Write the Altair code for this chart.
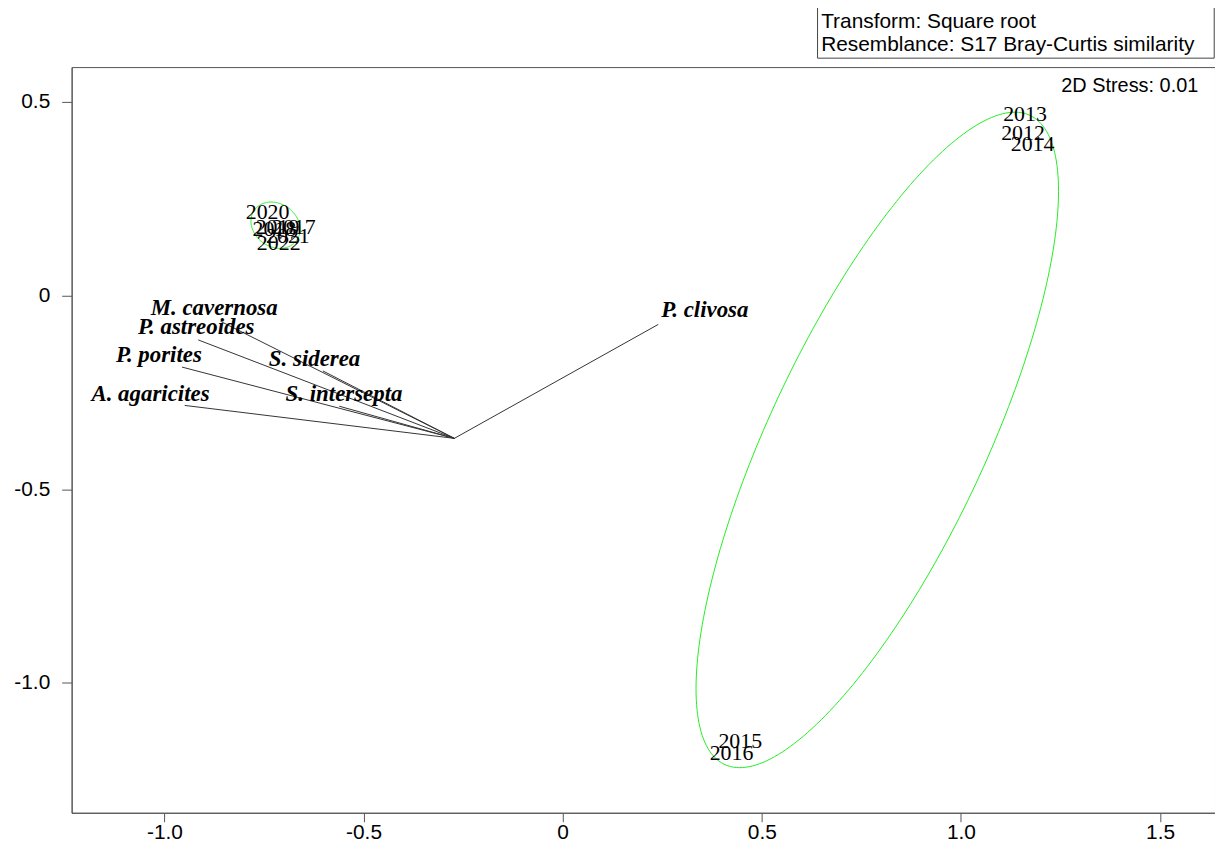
import altair as alt
import numpy as np
import pandas as pd

# ---- sample (year) positions in the nMDS ordination ----
years = ["2012", "2013", "2014", "2015", "2016", "2017", "2018", "2019", "2020", "2021", "2022"]
year_x = [1.156, 1.161, 1.180, 0.446, 0.424, -0.675, -0.724, -0.716, -0.741, -0.690, -0.713]
year_y = [0.419, 0.468, 0.391, -1.149, -1.180, 0.175, 0.172, 0.175, 0.2155, 0.152, 0.136]

# ---- species vectors (end points) and their label positions ----
species = ["P. clivosa", "M. cavernosa", "P. astreoides", "P. porites",
           "A. agaricites", "S. siderea", "S. intersepta"]
vec_x = [0.240, -0.859, -0.915, -0.956, -0.949, -0.602, -0.561]
vec_y = [-0.075, -0.067, -0.115, -0.185, -0.284, -0.195, -0.286]
label_x = [0.357, -0.875, -0.920, -1.014, -1.035, -0.623, -0.549]
label_y = [-0.038, -0.033, -0.082, -0.154, -0.255, -0.164, -0.255]
origin_x = -0.272
origin_y = -0.369

# ---- cluster ellipses (center, semi-axes, angle in degrees) ----
ell_names = ["small", "large"]
ell_cx = [-0.721, 0.790]
ell_cy = [0.181, -0.373]
ell_a = [0.066, 0.921]
ell_b = [0.055, 0.272]
ell_angle = [-40.0, 65.5]

# ---- annotation texts ----
box_lines = ["Transform: Square root", "Resemblance: S17 Bray-Curtis similarity"]
stress_text = "2D Stress: 0.01"

x_ticks = [-1.0, -0.5, 0.0, 0.5, 1.0, 1.5]
y_ticks = [-1.0, -0.5, 0.0, 0.5]
x_domain = [-1.233, 1.638]
y_domain = [-1.335, 0.589]

# ---------------- build tables ----------------
years_df = pd.DataFrame({"year": years, "x": year_x, "y": year_y})
vec_df = pd.DataFrame({"species": species, "x": [origin_x] * len(species),
                       "y": [origin_y] * len(species), "x2": vec_x, "y2": vec_y})
lab_df = pd.DataFrame({"species": species, "x": label_x, "y": label_y})

rows = []
t = np.linspace(0, 2 * np.pi, 241)
for n, cx, cy, a, b, ang in zip(ell_names, ell_cx, ell_cy, ell_a, ell_b, ell_angle):
    th = np.deg2rad(ang)
    ex = cx + a * np.cos(t) * np.cos(th) - b * np.sin(t) * np.sin(th)
    ey = cy + a * np.cos(t) * np.sin(th) + b * np.sin(t) * np.cos(th)
    for i, (px, py) in enumerate(zip(ex, ey)):
        rows.append({"g": n, "i": i, "x": px, "y": py})
ell_df = pd.DataFrame(rows)

box_df = pd.DataFrame({"x": [0.640], "x2": [1.636], "y": [0.745], "y2": [0.612]})
box_txt_df = pd.DataFrame({"t": box_lines, "x": [0.649, 0.649], "y": [0.705, 0.647]})
stress_df = pd.DataFrame({"t": [stress_text], "x": [1.596], "y": [0.540]})

label_expr = "datum.value == 0 ? '0' : (datum.value < 0 ? '-' : '') + format(abs(datum.value), '.1f')"

xs = alt.Scale(domain=x_domain, nice=False, zero=False)
ys = alt.Scale(domain=y_domain, nice=False, zero=False)

x_axis = alt.Axis(values=x_ticks, labelExpr=label_expr, title=None, grid=False,
                  tickSize=9, labelFontSize=21, labelFont="Liberation Sans",
                  labelColor="black", tickColor="#555", domainColor="#555",
                  labelPadding=0, labelFlush=False)
y_axis = alt.Axis(values=y_ticks, labelExpr=label_expr, title=None, grid=False,
                  tickSize=10, labelFontSize=21, labelFont="Liberation Sans",
                  labelColor="black", tickColor="#555", domainColor="#555",
                  labelPadding=12, labelFlush=False)

ellipses = alt.Chart(ell_df).mark_line(color="#22ee22", strokeWidth=1, clip=True).encode(
    x=alt.X("x:Q", scale=xs, axis=x_axis),
    y=alt.Y("y:Q", scale=ys, axis=y_axis),
    detail="g:N",
    order="i:Q",
)

vectors = alt.Chart(vec_df).mark_rule(color="#333", strokeWidth=1).encode(
    x=alt.X("x:Q", scale=xs), y=alt.Y("y:Q", scale=ys), x2="x2:Q", y2="y2:Q"
)

vec_labels = alt.Chart(lab_df).mark_text(
    font="Liberation Serif", fontSize=23, fontStyle="italic", fontWeight="bold",
    color="black", align="center", baseline="middle"
).encode(x=alt.X("x:Q", scale=xs), y=alt.Y("y:Q", scale=ys), text="species:N")

year_labels = alt.Chart(years_df).mark_text(
    font="Liberation Serif", fontSize=22, color="black", align="center", baseline="middle"
).encode(x=alt.X("x:Q", scale=xs), y=alt.Y("y:Q", scale=ys), text="year:N")

stress = alt.Chart(stress_df).mark_text(
    font="Liberation Sans", fontSize=20, color="black", align="right", baseline="middle"
).encode(x=alt.X("x:Q", scale=xs), y=alt.Y("y:Q", scale=ys), text="t:N")

box = alt.Chart(box_df).mark_rect(fill="white", stroke="#444", strokeWidth=1, clip=False).encode(
    x=alt.X("x:Q", scale=xs), x2="x2:Q", y=alt.Y("y:Q", scale=ys), y2="y2:Q"
)

box_text = alt.Chart(box_txt_df).mark_text(
    font="Liberation Sans", fontSize=21, color="black", align="left", baseline="middle", clip=False
).encode(x=alt.X("x:Q", scale=xs), y=alt.Y("y:Q", scale=ys), text="t:N")

chart = alt.layer(ellipses, vectors, vec_labels, year_labels, stress, box, box_text).properties(
    width=1150, height=750,
    autosize=alt.AutoSizeParams(type="none"),
    padding={"left": 64, "top": 57, "right": 0, "bottom": 30},
    background="white",
).configure_view(stroke="#555", strokeWidth=1)

chart.save("out.html", embed_options={"renderer": "svg", "actions": False})
